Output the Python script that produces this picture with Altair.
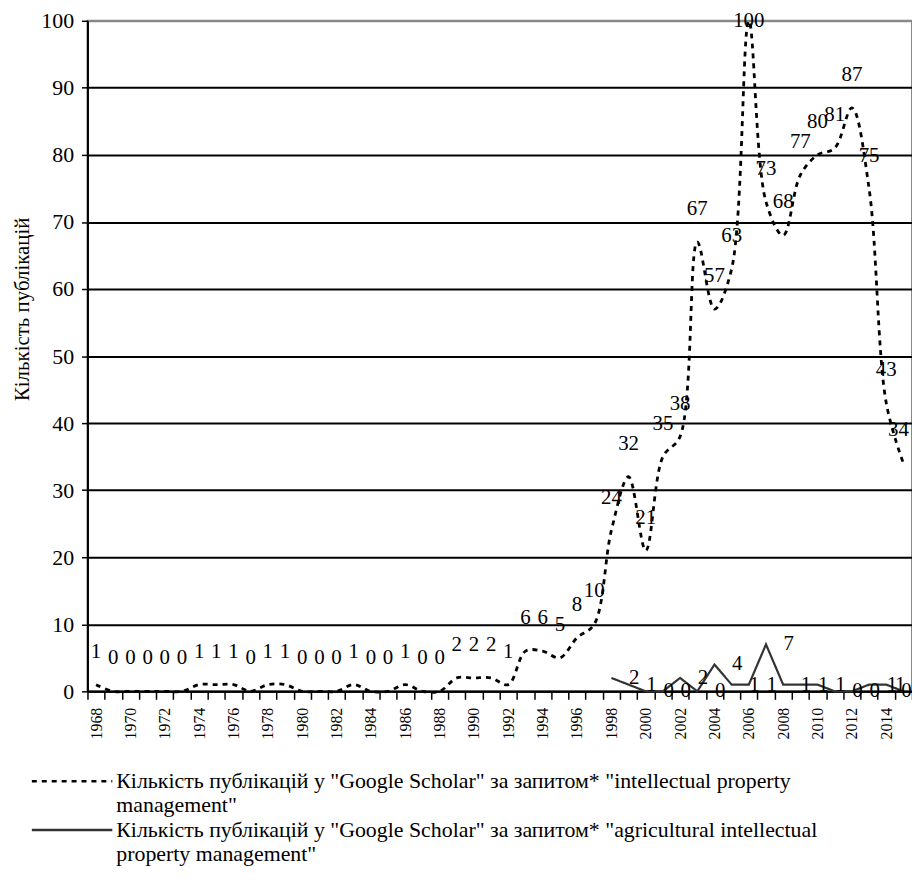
import altair as alt
import pandas as pd

# ---- data ----
years = list(range(1968, 2016))
ipm_values = [1, 0, 0, 0, 0, 0, 1, 1, 1, 0, 1, 1, 0, 0, 0, 1, 0, 0, 1, 0, 0, 2, 2, 2,
              1, 6, 6, 5, 8, 10, 24, 32, 21, 35, 38, 67, 57, 63, 100, 73, 68, 77, 80, 81,
              87, 75, 43, 34]
agri_years = list(range(1998, 2016))
agri_values = [2, 1, 0, 0, 2, 0, 4, 1, 1, 7, 1, 1, 1, 0, 0, 1, 1, 0]

series_keys = ["ipm", "agri"]
legend_lines = [
    ['Кількість публікацій у "Google Scholar" за запитом* "intellectual property',
     'management"'],
    ['Кількість публікацій у "Google Scholar" за запитом* "agricultural intellectual',
     'property management"'],
]
y_title = "Кількість публікацій"
y_ticks = list(range(0, 101, 10))

FONT = "Liberation Serif, Times New Roman, serif"

ipm_df = pd.DataFrame({"year": years, "value": ipm_values, "series": series_keys[0]})
agri_df = pd.DataFrame({"year": agri_years, "value": agri_values, "series": series_keys[1]})


def js_str(s):
    return "'" + s.replace("\\", "\\\\").replace("'", "\\'") + "'"


label_expr = "datum.value == {} ? [{}] : [{}]".format(
    js_str(series_keys[0]),
    ", ".join(js_str(s) for s in legend_lines[0]),
    ", ".join(js_str(s) for s in legend_lines[1]),
)

x_enc = alt.X(
    "year:O",
    scale=alt.Scale(type="band", domain=years, paddingInner=0, paddingOuter=0),
    axis=alt.Axis(
        title=None,
        labelExpr="datum.value % 2 == 0 ? datum.label : ''",
        labelAngle=-90,
        labelFont=FONT,
        labelFontSize=16,
        labelColor="black",
        labelOverlap=False,
        labelPadding=8,
        tickBand="extent",
        tickSize=8,
        tickColor="black",
        tickWidth=1.5,
        domainColor="black",
        domainWidth=2,
        grid=False,
    ),
)


def y_enc(field):
    return alt.Y(
        field,
        scale=alt.Scale(domain=[0, 100], nice=False),
        axis=alt.Axis(
            values=y_ticks,
            title=y_title,
            titleFont=FONT,
            titleFontSize=21,
            titleFontWeight="normal",
            titleColor="black",
            titleX=-65,
            titleY=290,
            titleBaseline="middle",
            titleAngle=-90,
            labelFont=FONT,
            labelFontSize=22,
            labelColor="black",
            labelPadding=8,
            tickSize=6,
            tickColor="black",
            tickWidth=1.5,
            domainColor="black",
            domainWidth=2,
            grid=True,
            gridColor=alt.condition("datum.value == 100", alt.value("#888888"), alt.value("black")),
            gridWidth=2,
        ),
    )


legend = alt.Legend(
    title=None,
    orient="none",
    legendX=-27,
    legendY=754,
    direction="vertical",
    symbolType="M-4,0H4",
    symbolSize=410,
    symbolStrokeWidth=2.5,
    labelFont=FONT,
    labelFontSize=22,
    labelColor="black",
    labelLimit=900,
    labelOffset=33,
    labelExpr=label_expr,
    rowPadding=2,
)

color_enc = alt.Color(
    "series:N",
    scale=alt.Scale(domain=series_keys, range=["black", "#333333"]),
    legend=legend,
)
dash_enc = alt.StrokeDash(
    "series:N",
    scale=alt.Scale(domain=series_keys, range=[[5, 5], [1, 0]]),
    legend=legend,
)

ipm_line = alt.Chart(ipm_df).mark_line(
    interpolate="catmull-rom", strokeWidth=2.8
).encode(x=x_enc, y=y_enc("value:Q"), color=color_enc, strokeDash=dash_enc)

agri_line = alt.Chart(agri_df).mark_line(
    interpolate="linear", strokeWidth=2.2
).encode(x=x_enc, y=y_enc("value:Q"), color=color_enc, strokeDash=dash_enc)

text_style = dict(font=FONT, fontSize=21, color="black", baseline="middle", align="center")

ipm_labels = alt.Chart(ipm_df).transform_filter("datum.year < 2015").transform_calculate(
    ly="min(datum.value + 4.9, 100)"
).mark_text(**text_style).encode(x=x_enc, y=y_enc("ly:Q"), text="value:Q")
ipm_labels_last = alt.Chart(ipm_df).transform_filter("datum.year == 2015").transform_calculate(
    ly="min(datum.value + 4.9, 100)"
).mark_text(dx=-5, **text_style).encode(x=x_enc, y=y_enc("ly:Q"), text="value:Q")

agri_labels_main = alt.Chart(agri_df).transform_filter("datum.year <= 2013").mark_text(
    dx=23, **text_style).encode(x=x_enc, y=y_enc("value:Q"), text="value:Q")
agri_labels_2014 = alt.Chart(agri_df).transform_filter("datum.year == 2014").mark_text(
    dx=14, **text_style).encode(x=x_enc, y=y_enc("value:Q"), text="value:Q")
agri_labels_2015 = alt.Chart(agri_df).transform_filter("datum.year == 2015").mark_text(
    dx=3, **text_style).encode(x=x_enc, y=y_enc("value:Q"), text="value:Q")

chart = alt.layer(
    ipm_line, agri_line, ipm_labels, ipm_labels_last,
    agri_labels_main, agri_labels_2014, agri_labels_2015
).properties(
    width=830,
    height=675,
    autosize=alt.AutoSizeParams(type="none"),
    padding={"left": 80, "top": 10, "right": 0, "bottom": 180},
    background="white",
).configure(
    style={"guide-label": {"lineHeight": 24}}
).configure_view(
    stroke="#888888", strokeWidth=2
)

chart.save("out.html", embed_options={"renderer": "svg", "actions": False})
